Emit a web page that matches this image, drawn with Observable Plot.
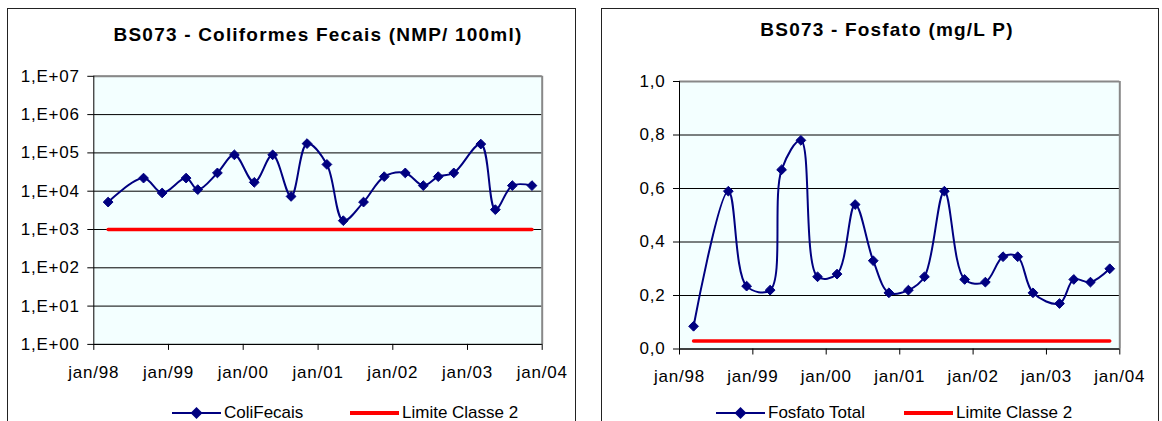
<!DOCTYPE html>
<html>
<head>
<meta charset="utf-8">
<script src="https://cdn.jsdelivr.net/npm/d3@7"></script>
<script src="https://cdn.jsdelivr.net/npm/@observablehq/plot@0.6"></script>
<style>
  html, body { margin: 0; padding: 0; background: #fff; }
  body { width: 1162px; height: 421px; position: relative; overflow: hidden;
         font-family: "Liberation Sans", Arial, sans-serif; color: #000; }
  .box { position: absolute; border: 1.5px solid #222; box-sizing: border-box; }
  .title { position: absolute; font-weight: bold; font-size: 19px; letter-spacing: 1.2px;
           white-space: nowrap; transform: translate(-50%, -50%); }
  .chart { position: absolute; top: 0; }
  .legend { position: absolute; font-size: 17px; white-space: nowrap; display: flex; align-items: center; }
  .legend svg { display: block; margin-right: 3px; }
</style>
</head>
<body>
<div class="box" style="left:7px; top:8px; width:569px; height:440px;"></div>
<div class="box" style="left:601px; top:8px; width:558px; height:440px;"></div>
<div class="title" id="t1" style="left:318px; top:35px;"></div>
<div class="title" id="t2" style="left:887px; top:30px;"></div>
<div class="chart" id="c1" style="left:0px;"></div>
<div class="chart" id="c2" style="left:600px;"></div>
<div id="legends"></div>
<script>
// ---- data ----
const sampleDates = ["1998-03-12","1998-09-01","1998-12-01","1999-03-28","1999-05-24","1999-08-28",
  "1999-11-19","2000-02-24","2000-05-24","2000-08-22","2000-11-08","2001-02-13","2001-05-04",
  "2001-08-11","2001-11-20","2002-03-03","2002-05-30","2002-08-11","2002-10-26","2003-03-07",
  "2003-05-17","2003-08-08","2003-11-12"];
const coliFecais = [5200, 22000, 9000, 22000, 11000, 30000, 89000, 17000, 89000, 7300, 175000,
  50000, 1700, 5200, 24000, 30000, 14000, 24000, 30000, 170000, 3300, 14000, 14000];
const fosfatoTotal = [0.085, 0.59, 0.235, 0.22, 0.67, 0.78, 0.27, 0.28, 0.54, 0.33, 0.21, 0.22,
  0.27, 0.59, 0.26, 0.25, 0.345, 0.345, 0.21, 0.17, 0.26, 0.25, 0.30];
const coliLimit = 1000;
const fosfatoLimit = 0.03;
const coliTitle = "BS073 - Coliformes Fecais (NMP/ 100ml)";
const fosfatoTitle = "BS073 - Fosfato (mg/L P)";
const coliSeriesName = "ColiFecais";
const fosfatoSeriesName = "Fosfato Total";
const limitName = "Limite Classe 2";
const coliTicks = [1, 10, 100, 1e3, 1e4, 1e5, 1e6, 1e7];
const coliTickLabels = ["1,E+00","1,E+01","1,E+02","1,E+03","1,E+04","1,E+05","1,E+06","1,E+07"];
const fosfatoTicks = [0, 0.2, 0.4, 0.6, 0.8, 1.0];
const fosfatoTickLabels = ["0,0","0,2","0,4","0,6","0,8","1,0"];
const yearTicks = ["1998-01-01","1999-01-01","2000-01-01","2001-01-01","2002-01-01","2003-01-01","2004-01-01"];
const yearTickLabels = ["jan/98","jan/99","jan/00","jan/01","jan/02","jan/03","jan/04"];

// ---- build ----
const NAVY = "#000080", RED = "#ff0000", BG = "#f3ffff";
const dates = sampleDates.map(d => new Date(d));
const xTicks = yearTicks.map(d => new Date(d));
const xLabel = new Map(xTicks.map((d, i) => [+d, yearTickLabels[i]]));

function makeChart({values, limit, yType, yDomain, yTicks, yLabels, width, margins, yPad, xPad}) {
  const rows = dates.map((d, i) => ({date: d, v: values[i]}));
  const lim = [{date: dates[0], v: limit}, {date: dates[dates.length - 1], v: limit}];
  const yLab = new Map(yTicks.map((t, i) => [t, yLabels[i]]));
  const x0 = xTicks[0], x1 = xTicks[xTicks.length - 1];
  return Plot.plot({
    width, height: 421,
    marginLeft: margins[0], marginRight: margins[1], marginTop: margins[2], marginBottom: margins[3],
    style: {fontFamily: '"Liberation Sans", Arial, sans-serif', fontSize: "17px", letterSpacing: "0.8px",
            color: "#000", background: "transparent", overflow: "visible"},
    x: {type: "utc", domain: [x0, x1], label: null},
    y: {type: yType, domain: yDomain, label: null},
    marks: [
      Plot.frame({fill: BG, stroke: "none"}),
      Plot.gridY(yTicks, {stroke: "#000", strokeOpacity: 1, strokeWidth: 1}),
      Plot.ruleY([yDomain[1]], {stroke: "#888", strokeWidth: 2}),
      Plot.ruleX([x1], {stroke: "#888", strokeWidth: 2}),
      Plot.ruleX([x0], {stroke: "#000", strokeWidth: 1}),
      Plot.ruleY([yDomain[0]], {stroke: "#000", strokeWidth: 1}),
      Plot.axisY({ticks: yTicks, tickFormat: t => yLab.get(t), tickSize: 6, tickPadding: yPad,
                  stroke: "#000", fill: "#000", label: null}),
      Plot.axisX({ticks: xTicks, tickFormat: d => xLabel.get(+d), tickSize: 6, tickPadding: xPad,
                  stroke: "#000", fill: "#000", label: null}),
      Plot.line(lim, {x: "date", y: "v", stroke: RED, strokeWidth: 3.5}),
      Plot.line(rows, {x: "date", y: "v", stroke: NAVY, strokeWidth: 2, curve: "catmull-rom"}),
      Plot.dot(rows, {x: "date", y: "v", symbol: "diamond2", r: 4.4, fill: NAVY, stroke: NAVY, strokeWidth: 1})
    ]
  });
}

document.getElementById("t1").textContent = coliTitle;
document.getElementById("t2").textContent = fosfatoTitle;

document.getElementById("c1").appendChild(makeChart({
  values: coliFecais, limit: coliLimit, yType: "log", yDomain: [1, 1e7],
  yTicks: coliTicks, yLabels: coliTickLabels, width: 580,
  margins: [93.3, 38.3, 75.8, 77.1], yPad: 8, xPad: 16
}));
document.getElementById("c2").appendChild(makeChart({
  values: fosfatoTotal, limit: fosfatoLimit, yType: "linear", yDomain: [0, 1],
  yTicks: fosfatoTicks, yLabels: fosfatoTickLabels, width: 562,
  margins: [79, 42.7, 81, 72.5], yPad: 8, xPad: 15
}));

// ---- legends ----
function legendItem(left, text, kind) {
  const div = document.createElement("div");
  div.className = "legend";
  div.style.left = left + "px";
  div.style.top = "402px";
  const ns = "http://www.w3.org/2000/svg";
  const svg = document.createElementNS(ns, "svg");
  svg.setAttribute("width", 49); svg.setAttribute("height", 22);
  const ln = document.createElementNS(ns, "line");
  ln.setAttribute("x1", 0); ln.setAttribute("x2", 49); ln.setAttribute("y1", 11); ln.setAttribute("y2", 11);
  ln.setAttribute("stroke", kind === "series" ? NAVY : RED);
  ln.setAttribute("stroke-width", kind === "series" ? 2 : 4);
  svg.appendChild(ln);
  if (kind === "series") {
    const p = document.createElementNS(ns, "path");
    p.setAttribute("d", "M24.5,5 L30.5,11 L24.5,17 L18.5,11 Z");
    p.setAttribute("fill", NAVY);
    svg.appendChild(p);
  }
  div.appendChild(svg);
  const span = document.createElement("span");
  span.textContent = text;
  div.appendChild(span);
  document.getElementById("legends").appendChild(div);
}
legendItem(172, coliSeriesName, "series");
legendItem(350, limitName, "limit");
legendItem(716, fosfatoSeriesName, "series");
legendItem(904, limitName, "limit");
</script>
</body>
</html>
